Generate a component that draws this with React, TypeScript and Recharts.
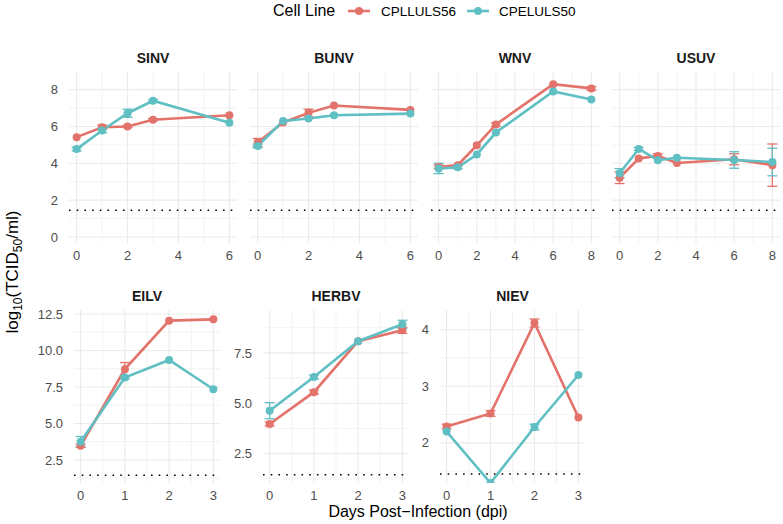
import React from 'react';
import {
  LineChart,
  Line,
  XAxis,
  YAxis,
  CartesianGrid,
  ReferenceLine,
  ErrorBar,
} from 'recharts';

const RED = '#E3736A';
const TEAL = '#5FBFC3';
const GRID = '#EBEBEB';
const FONT = '"Liberation Sans", Arial, Helvetica, sans-serif';

// detection limit (dotted line)
const LOD = 1.45;

// sampling days
const days6 = [0, 1, 2, 3, 6];
const days8 = [0, 1, 2, 3, 6, 8];
const days3 = [0, 1, 2, 3];

// SINV
const sinvCpll = [5.42, 5.96, 6.0, 6.37, 6.61];
const sinvCpllErr = [0, 0.12, 0.06, 0.06, 0];
const sinvCpel = [4.77, 5.78, 6.72, 7.4, 6.2];
const sinvCpelErr = [0.1, 0.12, 0.22, 0.06, 0];

// BUNV
const bunvCpll = [5.13, 6.22, 6.74, 7.14, 6.9];
const bunvCpllErr = [0.22, 0, 0.2, 0, 0];
const bunvCpel = [4.94, 6.3, 6.43, 6.61, 6.7];
const bunvCpelErr = [0.1, 0, 0, 0, 0];

// WNV
const wnvCpll = [3.8, 3.9, 4.98, 6.11, 8.3, 8.07];
const wnvCpllErr = [0.1, 0, 0, 0.1, 0, 0.1];
const wnvCpel = [3.72, 3.78, 4.48, 5.67, 7.9, 7.47];
const wnvCpelErr = [0.28, 0.08, 0, 0, 0, 0];

// USUV
const usuvCpll = [3.22, 4.26, 4.4, 4.02, 4.22, 3.9];
const usuvCpllErr = [0.32, 0, 0.12, 0, 0.3, 1.15];
const usuvCpel = [3.46, 4.78, 4.17, 4.3, 4.18, 4.07];
const usuvCpelErr = [0.25, 0.08, 0, 0, 0.45, 0.75];

// EILV
const eilvCpll = [3.47, 8.72, 12.04, 12.13];
const eilvCpllErr = [0.1, 0.45, 0, 0];
const eilvCpel = [3.75, 8.15, 9.35, 7.34];
const eilvCpelErr = [0.35, 0.1, 0, 0];

// HERBV
const herbvCpll = [3.97, 5.55, 8.08, 8.62];
const herbvCpllErr = [0.1, 0.1, 0, 0.15];
const herbvCpel = [4.63, 6.3, 8.08, 8.92];
const herbvCpelErr = [0.4, 0.1, 0, 0.2];

// NIEV
const nievCpll = [2.29, 2.52, 4.12, 2.45];
const nievCpllErr = [0.04, 0.05, 0.07, 0];
const nievCpel = [2.2, 1.29, 2.28, 3.2];
const nievCpelErr = [0, 0, 0.05, 0];

// axis breaks
const xTicks6 = [0, 2, 4, 6];
const xMinor6 = [1, 3, 5];
const xTicks8 = [0, 2, 4, 6, 8];
const xMinor8 = [1, 3, 5, 7];
const xTicks3 = [0, 1, 2, 3];
const xMinor3 = [0.5, 1.5, 2.5];
const yTicksTop = [0, 2, 4, 6, 8];
const yMinorTop = [1, 3, 5, 7];
const yTicksEilv = [2.5, 5, 7.5, 10, 12.5];
const yMinorEilv = [1.25, 3.75, 6.25, 8.75, 11.25];
const yTicksHerbv = [2.5, 5, 7.5];
const yMinorHerbv = [1.25, 3.75, 6.25, 8.75];
const yTicksNiev = [2, 3, 4];
const yMinorNiev = [1.5, 2.5, 3.5];

const AXIS_W = 50;
const TOP_PAD = 10;
const tickStyle = { fill: '#4D4D4D', fontSize: 13, fontFamily: FONT };

const fmtInt = (v: number) => String(v);
const fmtOne = (v: number) => v.toFixed(1);

interface PanelProps {
  title: string;
  left: number;
  top: number;
  width: number;
  height: number;
  days: number[];
  cpll: number[];
  cpllErr: number[];
  cpel: number[];
  cpelErr: number[];
  xDomain: [number, number];
  xTicks: number[];
  xMinor: number[];
  yDomain: [number, number];
  yTicks: number[];
  yMinor: number[];
  yFmt?: (v: number) => string;
  showY: boolean;
}

const Panel: React.FC<PanelProps> = (p) => {
  const rows = p.days.map((d, i) => ({
    day: d,
    cpll: p.cpll[i],
    cpllErr: p.cpllErr[i],
    cpel: p.cpel[i],
    cpelErr: p.cpelErr[i],
  }));

  return (
    <>
      <div
        style={{
          position: 'absolute',
          left: p.left,
          top: p.top - 24,
          width: p.width,
          textAlign: 'center',
          fontWeight: 'bold',
          fontSize: 14,
          lineHeight: '20px',
          color: '#1A1A1A',
        }}
      >
        {p.title}
      </div>
      <div style={{ position: 'absolute', left: p.left - AXIS_W, top: p.top - TOP_PAD }}>
        <LineChart
          width={p.width + AXIS_W}
          height={p.height + 28 + TOP_PAD}
          data={rows}
          margin={{ top: TOP_PAD, right: 0, bottom: 0, left: p.showY ? 0 : AXIS_W }}
        >
          <CartesianGrid
            stroke={GRID}
            strokeWidth={0.6}
            horizontalValues={p.yMinor}
            verticalValues={p.xMinor}
          />
          <CartesianGrid
            stroke={GRID}
            strokeWidth={1.1}
            horizontalValues={p.yTicks}
            verticalValues={p.xTicks}
          />
          <XAxis
            type="number"
            dataKey="day"
            domain={p.xDomain}
            ticks={p.xTicks}
            interval={0}
            allowDataOverflow
            axisLine={false}
            tickLine={false}
            tickMargin={2}
            tick={tickStyle}
            height={28}
          />
          <YAxis
            type="number"
            domain={p.yDomain}
            ticks={p.yTicks}
            interval={0}
            allowDataOverflow
            hide={!p.showY}
            axisLine={false}
            tickLine={false}
            tickMargin={5}
            tick={tickStyle}
            tickFormatter={p.yFmt ?? fmtInt}
            width={AXIS_W}
          />
          <ReferenceLine
            y={LOD}
            stroke="#000"
            strokeWidth={1.6}
            strokeDasharray="1.6 6.1"
          />
          <Line
            type="linear"
            dataKey="cpll"
            stroke={RED}
            strokeWidth={2.6}
            dot={{ r: 4, fill: RED, stroke: RED, strokeWidth: 0 }}
            isAnimationActive={false}
          >
            <ErrorBar dataKey="cpllErr" width={5} strokeWidth={1.3} stroke={RED} />
          </Line>
          <Line
            type="linear"
            dataKey="cpel"
            stroke={TEAL}
            strokeWidth={2.6}
            dot={{ r: 4, fill: TEAL, stroke: TEAL, strokeWidth: 0 }}
            isAnimationActive={false}
          >
            <ErrorBar dataKey="cpelErr" width={5} strokeWidth={1.3} stroke={TEAL} />
          </Line>
        </LineChart>
      </div>
    </>
  );
};

const LegendKey: React.FC<{ color: string; left: number }> = ({ color, left }) => (
  <svg style={{ position: 'absolute', left, top: 4 }} width={24} height={14}>
    <line x1={1} y1={7} x2={23} y2={7} stroke={color} strokeWidth={2.6} />
    <circle cx={12} cy={7} r={4} fill={color} />
  </svg>
);

const TOP_Y = 72;
const TOP_H = 171;
const BOT_Y = 310;
const BOT_H = 173;

export default function App() {
  return (
    <div
      style={{
        position: 'fixed',
        left: 0,
        top: 0,
        width: 783,
        height: 524,
        background: '#fff',
        overflow: 'hidden',
        fontFamily: FONT,
      }}
    >
      {/* legend */}
      <div style={{ position: 'absolute', left: 273, top: 0, fontSize: 16, lineHeight: '22px', color: '#000' }}>
        Cell Line
      </div>
      <LegendKey color={RED} left={347} />
      <div style={{ position: 'absolute', left: 381, top: 1, fontSize: 13.5, lineHeight: '22px', color: '#000' }}>
        CPLLULS56
      </div>
      <LegendKey color={TEAL} left={466} />
      <div style={{ position: 'absolute', left: 499, top: 1, fontSize: 13.5, lineHeight: '22px', color: '#000' }}>
        CPELULS50
      </div>

      <Panel title="SINV" left={69} top={TOP_Y} width={168} height={TOP_H} days={days6}
        cpll={sinvCpll} cpllErr={sinvCpllErr} cpel={sinvCpel} cpelErr={sinvCpelErr}
        xDomain={[-0.3, 6.3]} xTicks={xTicks6} xMinor={xMinor6}
        yDomain={[-0.33, 8.96]} yTicks={yTicksTop} yMinor={yMinorTop} showY />
      <Panel title="BUNV" left={250} top={TOP_Y} width={168} height={TOP_H} days={days6}
        cpll={bunvCpll} cpllErr={bunvCpllErr} cpel={bunvCpel} cpelErr={bunvCpelErr}
        xDomain={[-0.3, 6.3]} xTicks={xTicks6} xMinor={xMinor6}
        yDomain={[-0.33, 8.96]} yTicks={yTicksTop} yMinor={yMinorTop} showY={false} />
      <Panel title="WNV" left={431} top={TOP_Y} width={168} height={TOP_H} days={days8}
        cpll={wnvCpll} cpllErr={wnvCpllErr} cpel={wnvCpel} cpelErr={wnvCpelErr}
        xDomain={[-0.4, 8.4]} xTicks={xTicks8} xMinor={xMinor8}
        yDomain={[-0.33, 8.96]} yTicks={yTicksTop} yMinor={yMinorTop} showY={false} />
      <Panel title="USUV" left={612} top={TOP_Y} width={168} height={TOP_H} days={days8}
        cpll={usuvCpll} cpllErr={usuvCpllErr} cpel={usuvCpel} cpelErr={usuvCpelErr}
        xDomain={[-0.4, 8.4]} xTicks={xTicks8} xMinor={xMinor8}
        yDomain={[-0.33, 8.96]} yTicks={yTicksTop} yMinor={yMinorTop} showY={false} />

      <Panel title="EILV" left={74} top={BOT_Y} width={146} height={BOT_H} days={days3}
        cpll={eilvCpll} cpllErr={eilvCpllErr} cpel={eilvCpel} cpelErr={eilvCpelErr}
        xDomain={[-0.15, 3.15]} xTicks={xTicks3} xMinor={xMinor3}
        yDomain={[0.92, 12.77]} yTicks={yTicksEilv} yMinor={yMinorEilv} yFmt={fmtOne} showY />
      <Panel title="HERBV" left={263} top={BOT_Y} width={146} height={BOT_H} days={days3}
        cpll={herbvCpll} cpllErr={herbvCpllErr} cpel={herbvCpel} cpelErr={herbvCpelErr}
        xDomain={[-0.15, 3.15]} xTicks={xTicks3} xMinor={xMinor3}
        yDomain={[1.04, 9.63]} yTicks={yTicksHerbv} yMinor={yMinorHerbv} yFmt={fmtOne} showY />
      <Panel title="NIEV" left={440} top={BOT_Y} width={145} height={BOT_H} days={days3}
        cpll={nievCpll} cpllErr={nievCpllErr} cpel={nievCpel} cpelErr={nievCpelErr}
        xDomain={[-0.15, 3.15]} xTicks={xTicks3} xMinor={xMinor3}
        yDomain={[1.29, 4.35]} yTicks={yTicksNiev} yMinor={yMinorNiev} showY />

      {/* axis titles */}
      <svg style={{ position: 'absolute', left: 0, top: 0 }} width={30} height={524}>
        <text
          transform="translate(18, 272) rotate(-90)"
          textAnchor="middle"
          fontSize={17}
          fill="#000"
          fontFamily={FONT}
        >
          log
          <tspan fontSize={12} dy={4}>10</tspan>
          <tspan dy={-4}>(TCID</tspan>
          <tspan fontSize={12} dy={4}>50</tspan>
          <tspan dy={-4}>/ml)</tspan>
        </text>
      </svg>
      <div
        style={{
          position: 'absolute',
          left: 218,
          width: 400,
          top: 504,
          textAlign: 'center',
          fontSize: 16,
          lineHeight: '16px',
          color: '#000',
        }}
      >
        Days Post−Infection (dpi)
      </div>
    </div>
  );
}
